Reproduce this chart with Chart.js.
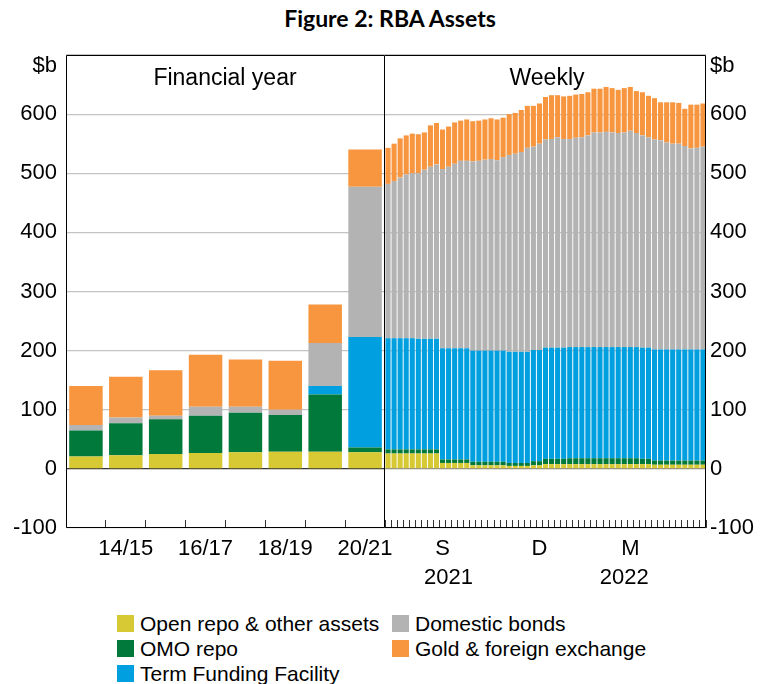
<!DOCTYPE html>
<html>
<head>
<meta charset="utf-8">
<script src="https://cdn.jsdelivr.net/npm/chart.js@4.4.1/dist/chart.umd.min.js"></script>
<style>
  body { margin: 0; background: #fff; }
  #wrap { position: relative; width: 760px; height: 684px; overflow: hidden; font-family: "Liberation Sans", Arial, sans-serif; }
  #title { position: absolute; top: 4px; left: 0; width: 780px; text-align: center; font: bold 23px Lato, "Open Sans", sans-serif; color: #000; }
  canvas { position: absolute; top: 0; }
  #cvLeft { left: 0; }
  #cvRight { left: 385px; }
  .panel { position: absolute; top: 64px; font-size: 23px; color: #000; transform: translateX(-50%); white-space: nowrap; }
  #legend { position: absolute; left: 117px; top: 611px; display: grid; grid-template-columns: 275px auto; font-size: 21px; color: #000; }
  .item { display: flex; align-items: center; height: 25px; white-space: nowrap; }
  .sw { width: 17px; height: 17px; margin-right: 6px; flex: none; }
</style>
</head>
<body>
<div id="wrap">
  <div id="title">Figure 2: RBA Assets</div>
  <canvas id="cvLeft" width="430" height="600"></canvas>
  <canvas id="cvRight" width="375" height="600"></canvas>
  <div class="panel" style="left:225px">Financial year</div>
  <div class="panel" style="left:547px">Weekly</div>
  <div id="legend"></div>
</div>
<script>
// financial year panel ($b)
const fyLabels = ["13/14", "14/15", "15/16", "16/17", "17/18", "18/19", "19/20", "20/21"];
const fyOpenRepo = [21, 23, 25, 27, 28, 29, 29, 28];
const fyOmo      = [44, 54, 59, 63, 67, 62, 97, 8];
const fyTff      = [0, 0, 0, 0, 0, 0, 14, 187];
const fyBonds    = [9, 10, 6, 15, 10, 9, 73, 254];
const fyGold     = [66, 69, 77, 88, 80, 83, 65, 63];

// weekly panel, Jul 2021 - Jun 2022 ($b)
const wkOpenRepo = [26,26,26,26,26,26,26,26,26, 10,10,10,10,10, 6,6,6,6,6,6, 5,5,5,5, 6,6,
  8,8,8,8,8,8,8,8,8,8,8,8,8,8,8,8,8,8, 7,7,7,7,7,7,7,7,7];
const wkOmo = [7,7,7,7,7,7,7,7,7, 6,6,6,6,6, 6,6,6,6,6,6, 5,5,5,5, 7,7,
  9,9,9,9,10,10,10,10,10,10,10,10,10,10,10,10,9,9, 7,7,7,7,7,7,7,7,7];
const wkTff = [188,188,188,188,188,187,187,187,187, 188,188,188,188,188, 188,188,188,188,188,188, 188,188,188,188, 188,188,
  188,188,188,188,188,188,188,188,188,188,188,188,188,188,188,188,188,188, 188,188,188,188,188,188,188,188,188];
const wkBonds = [261,266,272,277,279,280,286,291,295, 303,307,312,317,317, 320,321,323,324,322,327, 333,335,338,345, 344,349,
  352,353,356,353,352,354,355,358,363,363,364,363,362,363,366,362,359,356, 355,354,350,348,348,344,340,341,343];
const wkGold = [61,63,66,66,67,66,63,70,70, 67,68,70,68,70, 68,68,68,69,69,67, 69,69,71,71, 69,68,
  72,74,71,72,73,73,73,73,74,74,76,75,73,75,74,71,73,70, 70,64,68,70,69,63,74,73,73];

// week ending dates as categories
const wkLabels = wkGold.map((_, i) => {
  const d = new Date(Date.UTC(2021, 5, 30 + 7 * i));
  return d.toISOString().slice(0, 10);
});
const monthTicks = { 9: "S", 25: "D", 40: "M" };
const yearTicks = { 10: "2021", 39: "2022" };

const seriesNames = ["Open repo & other assets", "OMO repo", "Term Funding Facility", "Domestic bonds", "Gold & foreign exchange"];
const colors = ["#d7c934", "#00793a", "#009fdf", "#b3b3b3", "#f7963f"];

const FONT = "'Liberation Sans', Arial, sans-serif";
const GRID = "#c4c4c4";

function yAxis(side, zeroColor) {
  return {
    position: side,
    stacked: true,
    min: -100,
    max: 700,
    ticks: {
      stepSize: 100,
      padding: side === "left" ? 9 : 4,
      color: "#000",
      font: { size: 22, family: FONT },
      callback: (v) => (v === 700 ? "" : v),
    },
    grid: {
      drawTicks: false,
      color: (c) => (c.tick && c.tick.value === 0 ? zeroColor : GRID),
      lineWidth: 1.2,
    },
    border: { display: false },
    afterFit: (s) => {
      s.width = side === "left" ? 66 : 54;
      s.paddingTop = 0;
      s.paddingBottom = 0;
    },
  };
}

function xAxis(labelFn) {
  return {
    stacked: true,
    offset: true,
    grid: { drawOnChartArea: false, drawTicks: true, tickLength: -8, tickColor: "#333", tickWidth: 1 },
    border: { display: false },
    ticks: {
      autoSkip: false,
      maxRotation: 0,
      minRotation: 0,
      padding: 14,
      color: "#000",
      font: { size: 22, family: FONT, lineHeight: 1.32 },
      callback: labelFn,
    },
    afterFit: (s) => {
      s.height = 72;
      s.paddingLeft = 0;
      s.paddingRight = 0;
    },
  };
}

// black frame round the plot area and the "$b" unit label
const framePlugin = {
  id: "frame",
  afterDraw(chart, args, opts) {
    const { ctx, chartArea: a } = chart;
    const y = chart.scales.y;
    ctx.save();
    ctx.strokeStyle = "#000";
    ctx.lineWidth = 1;
    ctx.beginPath();
    const l = Math.round(a.left) + 0.5, r = Math.round(a.right) - 0.5;
    const t = Math.round(a.top) + 0.5, b = Math.round(a.bottom) - 0.5;
    if (opts.side === "left") {
      ctx.moveTo(r, t); ctx.lineTo(l, t); ctx.lineTo(l, b); ctx.lineTo(r, b); ctx.lineTo(r, t);
    } else {
      ctx.moveTo(a.left, t); ctx.lineTo(r, t); ctx.lineTo(r, b); ctx.lineTo(a.left, b);
    }
    ctx.stroke();
    ctx.fillStyle = "#000";
    ctx.font = "22px " + FONT;
    ctx.textBaseline = "middle";
    const yy = y.getPixelForValue(700) + 11;
    if (opts.side === "left") {
      ctx.textAlign = "right";
      ctx.fillText("$b", y.right - 9, yy);
    } else {
      ctx.textAlign = "left";
      ctx.fillText("$b", y.left + 4, yy);
    }
    ctx.restore();
  },
};

function makeDatasets(values, barPct) {
  return values.map((data, i) => ({
    label: seriesNames[i],
    data,
    backgroundColor: colors[i],
    borderWidth: 0,
    barPercentage: barPct,
    categoryPercentage: 1,
  }));
}

const common = {
  responsive: false,
  animation: false,
  plugins: { legend: { display: false }, tooltip: { enabled: true } },
};

new Chart(document.getElementById("cvLeft").getContext("2d"), {
  type: "bar",
  data: {
    labels: fyLabels,
    datasets: makeDatasets([fyOpenRepo, fyOmo, fyTff, fyBonds, fyGold], 0.84),
  },
  options: {
    ...common,
    layout: { padding: { top: 55, right: 45, left: 0, bottom: 0 } },
    plugins: { ...common.plugins, frame: { side: "left" } },
    scales: {
      x: xAxis((v, i) => (i % 2 === 1 ? fyLabels[i] : "")),
      y: yAxis("left", "#333"),
    },
  },
  plugins: [framePlugin],
});

new Chart(document.getElementById("cvRight").getContext("2d"), {
  type: "bar",
  data: {
    labels: wkLabels,
    datasets: makeDatasets([wkOpenRepo, wkOmo, wkTff, wkBonds, wkGold], 0.84),
  },
  options: {
    ...common,
    layout: { padding: { top: 55, right: 0, left: 0, bottom: 0 } },
    plugins: { ...common.plugins, frame: { side: "right" } },
    scales: {
      x: xAxis((v, i) => {
        if (monthTicks[i]) return [monthTicks[i]];
        if (yearTicks[i]) return ["", yearTicks[i]];
        return "";
      }),
      y: yAxis("right", "#888"),
    },
  },
  plugins: [framePlugin],
});

// legend: two columns, same order as the reference
const legendOrder = [0, 3, 1, 4, 2];
const legend = document.getElementById("legend");
legendOrder.forEach((k) => {
  const item = document.createElement("div");
  item.className = "item";
  item.innerHTML = `<span class="sw" style="background:${colors[k]}"></span><span>${seriesNames[k]}</span>`;
  legend.appendChild(item);
});
</script>
</body>
</html>
